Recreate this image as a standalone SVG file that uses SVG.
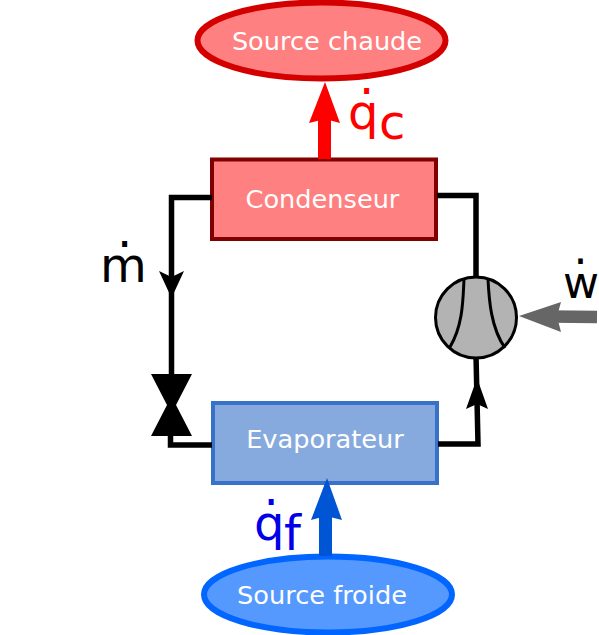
<svg xmlns="http://www.w3.org/2000/svg" width="599" height="635" viewBox="0 0 599 635">
<style>
text{font-family:"DejaVu Sans",sans-serif}
.lbl{font-size:25.6px;fill:#fff;text-anchor:middle}
.sym{font-size:48px}
.pipe{fill:none;stroke:#000;stroke-width:5.500}
</style>
<rect width="599" height="635" fill="#fff"/>
<g id="source-chaude"><ellipse cx="321.500" cy="40.500" rx="124" ry="38" fill="#ff8080" stroke="#d40000" stroke-width="6"/><text class="lbl" x="327" y="49.500">Source chaude</text></g>
<g id="condenseur"><rect x="212" y="159.500" width="224" height="79.500" fill="#ff8080" stroke="#800000" stroke-width="4"/><text class="lbl" x="322.500" y="208">Condenseur</text></g>
<g id="evaporateur"><rect x="213" y="403" width="224" height="80" fill="#87aade" stroke="#3771c8" stroke-width="4"/><text class="lbl" x="325" y="448">Evaporateur</text></g>
<g id="source-froide"><ellipse cx="328" cy="594.500" rx="124" ry="38" fill="#5599ff" stroke="#0066ff" stroke-width="6"/><text class="lbl" x="322" y="603.500">Source froide</text></g>
<g id="connectors">
<path class="pipe" d="M212 197.500H171.500V380"/>
<path d="M159 271L171.500 277L184 271L171.500 298Z"/>
<path class="pipe" d="M212 445H170.500V425"/>
<path class="pipe" d="M437 195.500H476V280"/>
<path class="pipe" d="M476 355L478 444H438"/>
<path d="M477 378L466 409L477 404L488 409Z"/>
<path d="M324.500 159V115" fill="none" stroke="#f00" stroke-width="13"/>
<path d="M325 82L309 123L325 119L340 123Z" fill="#f00"/>
<path d="M325.500 556V515" fill="none" stroke="#0055d4" stroke-width="13"/>
<path d="M327 478L311 520L326 516L342 520Z" fill="#0055d4"/>
<path d="M597 317L550 316.500" fill="none" stroke="#666" stroke-width="12.500"/>
<path d="M519 316L561 302L557 316.500L561 332Z" fill="#666"/>
</g>
<g id="compresseur">
<circle cx="476" cy="317.500" r="40.500" fill="#b3b3b3" stroke="#000" stroke-width="3"/>
<path d="M464 279C463 300 463 325 450 347M488 279C489 300 491 328 505 348" fill="none" stroke="#000" stroke-width="3"/>
</g>
<g id="detendeur"><path d="M151 374H192L176 405L192 436H151L167 405Z"/></g>
<text id="q-c" class="sym" fill="#f00"><tspan x="348" y="129">q</tspan><tspan x="359" y="94">.</tspan><tspan x="379" y="139">c</tspan></text>
<text id="q-f" class="sym" fill="#0000e6"><tspan x="254" y="540">q</tspan><tspan x="263.500" y="505">.</tspan><tspan x="284" y="550">f</tspan></text>
<text id="m" class="sym" fill="#000"><tspan x="100" y="282">m</tspan><tspan x="117" y="247">.</tspan></text>
<text id="w" style="font-size:44px" fill="#000"><tspan x="563" y="298">w</tspan><tspan x="573.500" y="264">.</tspan></text>
</svg>
